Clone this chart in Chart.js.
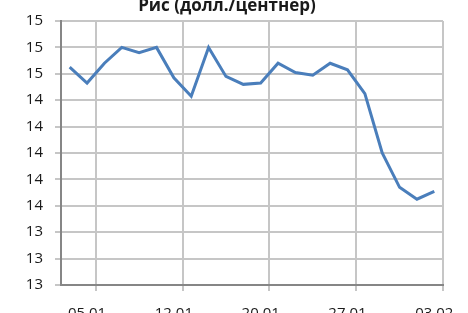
<!DOCTYPE html>
<html>
<head>
<meta charset="utf-8">
<script src="https://cdn.jsdelivr.net/npm/chart.js@4/dist/chart.umd.min.js"></script>
<style>
	html, body { margin: 0; padding: 0; background: #fff; overflow: hidden; }
	canvas { display: block; }
</style>
</head>
<body>
<canvas id="chart" width="468" height="313"></canvas>
<script>
// Trading days (text axis)
const dates = [
	"04.01", "05.01", "06.01", "09.01", "10.01", "11.01", "12.01", "13.01",
	"17.01", "18.01", "19.01", "20.01", "23.01", "24.01", "25.01", "26.01",
	"27.01", "30.01", "31.01", "01.02", "02.02", "03.02",
];

// Rice price, USD per cwt
const prices = [
	14.65, 14.53, 14.68, 14.80, 14.76, 14.80, 14.57, 14.43, 14.80, 14.58, 14.52,
	14.53, 14.68, 14.61, 14.59, 14.68, 14.63, 14.45, 14.00, 13.74, 13.65, 13.71,
];

// Labelled dates on the x axis
const tickLabels = ["05.01", "12.01", "20.01", "27.01", "03.02"];

const yMin = 13;
const yMax = 15;
const yStep = 0.2;

const gridColor = "#c6c6c6";
const axisColor = "#868686";

Chart.defaults.color = "#1a1a1a";
Chart.defaults.font.family = "Open Sans";

const points = prices.map((v, i) => ({ x: i, y: v }));
const xMin = -0.5;
const xMax = dates.length - 0.5;

new Chart(document.getElementById("chart"), {
	type: "line",
	data: {
		datasets: [
			{
				data: points,
				borderColor: "#4a7ebb",
				borderWidth: 3,
				pointRadius: 0,
			},
		],
	},
	options: {
		responsive: false,
		animation: false,
		layout: { padding: { left: 0, right: 14, top: 0, bottom: 0 } },
		plugins: {
			legend: { display: false },
			title: {
				display: true,
				text: "Рис (долл./центнер)",
				font: { size: 17, weight: "bold", lineHeight: 0.5 },
				padding: { top: 0, bottom: 10.5 },
			},
		},
		scales: {
			// gridlines sit on the boundary right of each labelled day
			x: {
				type: "linear",
				position: "bottom",
				min: xMin,
				max: xMax,
				weight: 0,
				grid: { color: gridColor, lineWidth: 2, tickLength: 6 },
				border: { color: axisColor, width: 2 },
				ticks: { display: false },
				afterBuildTicks: (scale) => {
					scale.ticks = tickLabels.map((l) => ({ value: dates.indexOf(l) + 0.5 }));
				},
				afterFit: (scale) => {
					scale.height = 6;
				},
			},
			// labels centred on the day itself
			x2: {
				type: "linear",
				position: "bottom",
				min: xMin,
				max: xMax,
				weight: 1,
				grid: { display: false, drawTicks: false },
				border: { display: false },
				ticks: {
					autoSkip: false,
					maxRotation: 0,
					minRotation: 0,
					padding: 14,
					font: { size: 15 },
					callback: (v, i) => tickLabels[i],
				},
				afterBuildTicks: (scale) => {
					scale.ticks = tickLabels.map((l) => ({ value: dates.indexOf(l) }));
				},
				afterFit: (scale) => {
					scale.height = 22;
				},
			},
			y: {
				min: yMin,
				max: yMax,
				grid: { color: gridColor, lineWidth: 2, tickLength: 6 },
				border: { color: axisColor, width: 2 },
				ticks: {
					stepSize: yStep,
					padding: 12,
					font: { size: 15 },
					callback: (v) => Math.round(v).toFixed(0),
				},
				afterFit: (scale) => {
					scale.width = 61;
				},
			},
		},
	},
});
</script>
</body>
</html>
